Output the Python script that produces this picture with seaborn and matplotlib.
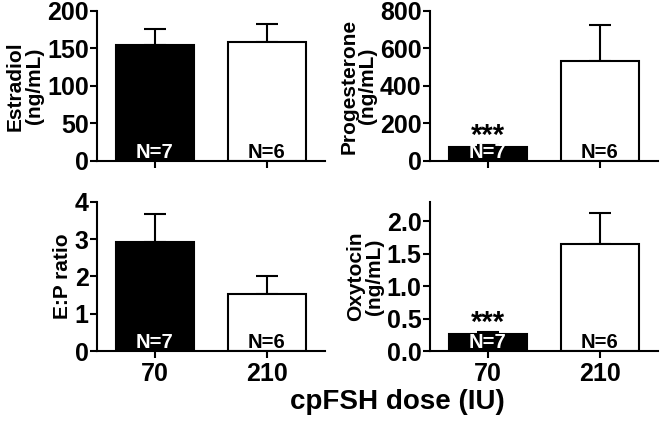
import matplotlib
matplotlib.use("Agg")
import matplotlib.pyplot as plt
import seaborn as sns
import pandas as pd

# data
doses = ["70", "210"]
estradiol = [155, 158]
estradiol_sem = [21, 25]
progesterone = [75, 533]
progesterone_sem = [12, 190]
ep_ratio = [2.92, 1.53]
ep_ratio_sem = [0.76, 0.49]
oxytocin = [0.26, 1.65]
oxytocin_sem = [0.04, 0.48]
n_labels = ["N=7", "N=6"]
stars = ["***", ""]

sns.set_theme(style="ticks")
plt.rcParams["font.family"] = ["Liberation Sans", "DejaVu Sans"]
plt.rcParams["font.weight"] = "bold"
for key in ["text.color", "axes.labelcolor", "xtick.color", "ytick.color"]:
    plt.rcParams[key] = "black"

fig = plt.figure(figsize=(6.66, 4.22), dpi=100)
panels = [
    ([0.1456, 0.6185, 0.3424, 0.3555], estradiol, estradiol_sem, "Estradiol\n(ng/mL)",
     (0, 200), [0, 50, 100, 150, 200], ["", ""], False),
    ([0.6456, 0.6185, 0.3424, 0.3555], progesterone, progesterone_sem, "Progesterone\n(ng/mL)",
     (0, 800), [0, 200, 400, 600, 800], stars, False),
    ([0.1456, 0.168, 0.3424, 0.354], ep_ratio, ep_ratio_sem, "E:P ratio",
     (0, 4), [0, 1, 2, 3, 4], ["", ""], True),
    ([0.6456, 0.168, 0.3424, 0.354], oxytocin, oxytocin_sem, "Oxytocin\n(ng/mL)",
     (0, 2.3), [0, 0.5, 1.0, 1.5, 2.0], stars, True),
]

for rect, vals, sem, ylab, ylim, yticks, star, show_x in panels:
    ax = fig.add_axes(rect)
    df = pd.DataFrame({"dose": doses, "value": vals})
    ax.errorbar([0, 1], vals, yerr=[[0, 0], sem], fmt="none", ecolor="black",
                elinewidth=1.5, capsize=8, capthick=1.5, zorder=1)
    sns.barplot(data=df, x="dose", y="value", hue="dose", palette=["black", "white"],
                edgecolor="black", linewidth=1.5, width=0.69, legend=False,
                ax=ax, zorder=2)
    for i, lab in enumerate(n_labels):
        ax.text(i, -0.005, lab, transform=ax.get_xaxis_transform(), ha="center", va="bottom",
                color="white" if i == 0 else "black", fontsize=14.5, fontweight="bold", zorder=3)
        if star[i]:
            ax.annotate(star[i], (i, vals[i]), xytext=(0, -2), textcoords="offset points",
                        ha="center", va="bottom", fontsize=21, fontweight="bold", zorder=3)
    ax.set_xlim(-0.518, 1.518)
    ax.set_ylim(*ylim)
    ax.set_yticks(yticks)
    if ylim[1] < 3:
        ax.set_yticklabels([f"{t:.1f}" for t in yticks])
    ax.set_ylabel(ylab, fontsize=15, fontweight="bold", linespacing=1.0, labelpad=2)
    ax.set_xlabel("")
    ax.set_xticks([0, 1])
    if show_x:
        ax.set_xticklabels(doses)
    else:
        ax.set_xticklabels(["", ""])
    ax.tick_params(axis="both", labelsize=18, width=1.5, length=5, pad=1, color="black")
    ax.tick_params(axis="x", pad=3)
    for t in ax.get_xticklabels() + ax.get_yticklabels():
        t.set_fontweight("bold")
    sns.despine(ax=ax)
    for s in ["left", "bottom"]:
        ax.spines[s].set_linewidth(1.5)
        ax.spines[s].set_color("black")

fig.text(0.597, 0.047, "cpFSH dose (IU)", ha="center", va="center", fontsize=20, fontweight="bold")

fig.savefig("out.png", dpi=100, facecolor="white")
